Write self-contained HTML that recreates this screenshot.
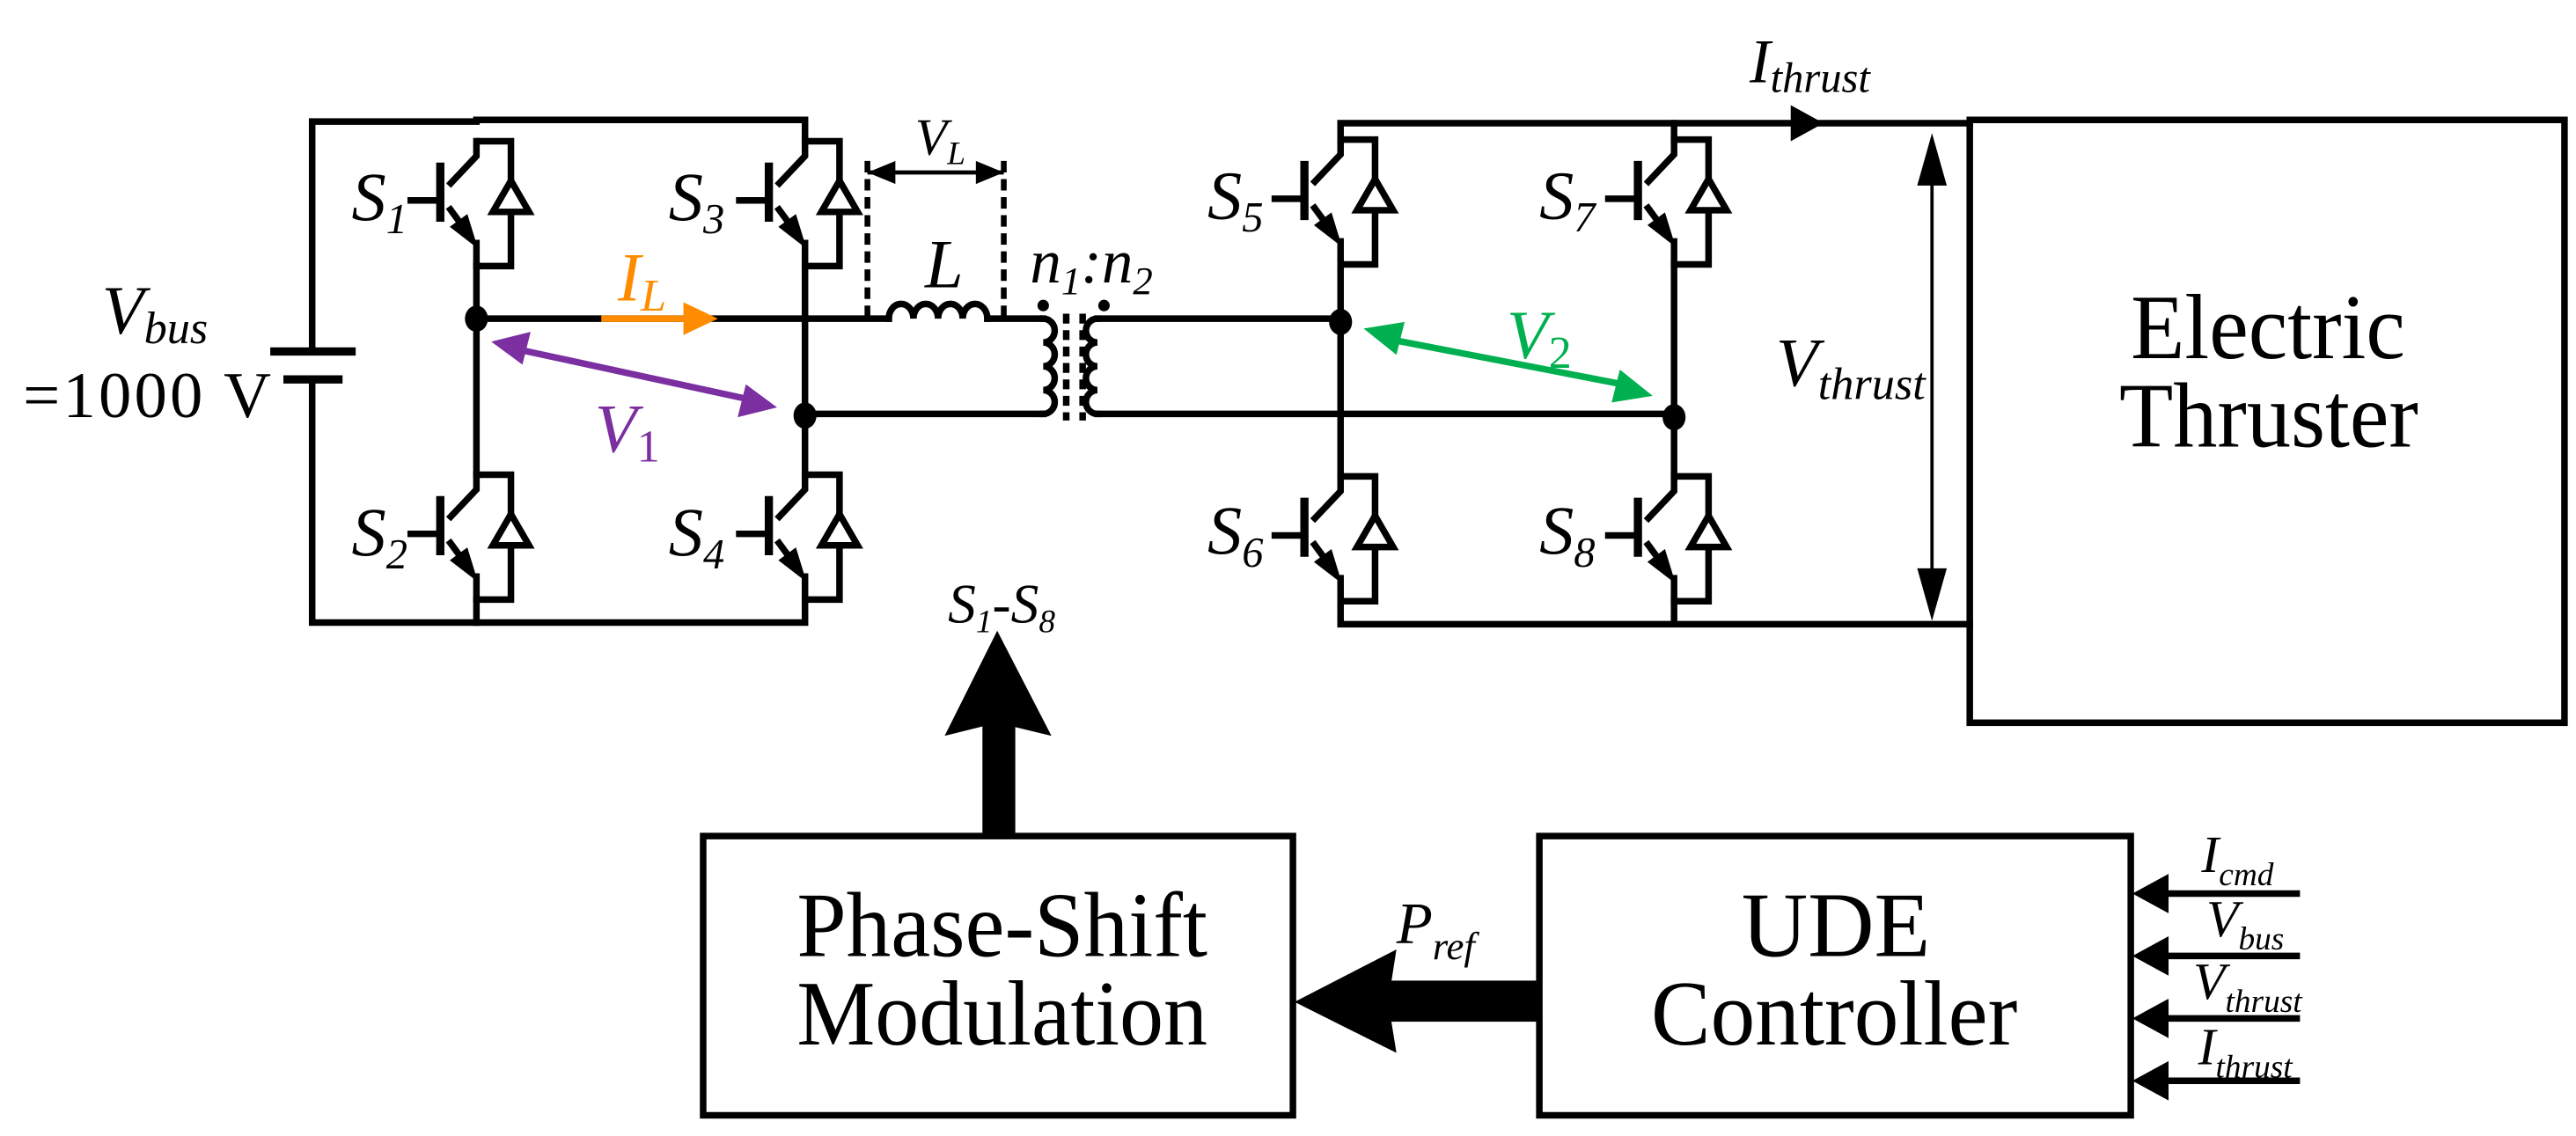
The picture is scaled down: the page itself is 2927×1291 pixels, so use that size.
<!DOCTYPE html>
<html><head><meta charset="utf-8"><style>html,body{margin:0;padding:0;background:#fff}svg{display:block}text{font-family:"Liberation Serif","Times New Roman",serif}</style></head><body>
<svg xmlns="http://www.w3.org/2000/svg" width="2927" height="1291" viewBox="0 0 1568 691.6">
<defs>
<g id="sw" fill="none" stroke="#000" stroke-width="4">
  <path d="M0,0 H21 V76 H0"/>
  <path d="M0,-2 V9 L-17,27"/>
  <path d="M-22,13 V49" stroke-width="5"/>
  <path d="M-42,36 H-22"/>
  <path d="M-17,40 L-6,55"/>
  <polygon points="0,64 -15.4,52.1 -5.8,45.1" fill="#000" stroke-width="1"/>
  <path d="M0,60 V78"/>
  <polygon points="21,24 10,43 32,43" fill="#fff"/>
</g>
</defs>
<g fill="none" stroke="#000" stroke-width="4" stroke-linecap="square">
  <path d="M190,214 V74 H290 V73 H490 V86"/>
  <path d="M190,231 V379 H490 V365"/>
  <path d="M290,162 V289 M290,365 V379"/>
  <path d="M490,162 V289"/>
  <path d="M167,214 H214" stroke-width="5"/>
  <path d="M175,231 H206" stroke-width="5"/>
  <path d="M290,194 H541"/>
  <path d="M601,194 H635"/>
  <path d="M490,252 H635"/>
  <path d="M668,194 H816"/>
  <path d="M668,252 H1019"/>
  <path d="M541,194 a7.5,9 0 0 1 15,0 a7.5,9 0 0 1 15,0 a7.5,9 0 0 1 15,0 a7.5,9 0 0 1 15,0"/>
  <path d="M635,194 a7,7.25 0 0 1 0,14.5 a7,7.25 0 0 1 0,14.5 a7,7.25 0 0 1 0,14.5 a7,7.25 0 0 1 0,14.5"/>
  <path d="M668,194 a7,7.25 0 0 0 0,14.5 a7,7.25 0 0 0 0,14.5 a7,7.25 0 0 0 0,14.5 a7,7.25 0 0 0 0,14.5"/>
  <path d="M649,191 V256 M659,191 V256" stroke-dasharray="6,4" stroke-linecap="butt"/>
  <path d="M816,85 V75 H1199"/>
  <path d="M1019,75 V85"/>
  <path d="M816,161 V290 M1019,161 V290"/>
  <path d="M816,366 V380 H1199 M1019,366 V380"/>
  <rect x="1199" y="73" width="362" height="367"/>
  <path d="M528,98 V194 M611,98 V194" stroke-dasharray="7,4" stroke-width="3.5" stroke-linecap="butt"/>
  <rect x="428" y="509" width="359" height="170"/>
  <rect x="937" y="509" width="360" height="170"/>
  <path d="M1310,544 H1400 M1310,582 H1400 M1310,620 H1400 M1310,658 H1400" stroke-width="4" stroke-linecap="butt"/>
</g>
<use href="#sw" x="290" y="86"/>
<use href="#sw" x="290" y="289"/>
<use href="#sw" x="490" y="86"/>
<use href="#sw" x="490" y="289"/>
<use href="#sw" x="816" y="85"/>
<use href="#sw" x="816" y="290"/>
<use href="#sw" x="1019" y="85"/>
<use href="#sw" x="1019" y="290"/>
<g fill="#000">
  <ellipse cx="290" cy="194" rx="7" ry="8"/>
  <ellipse cx="490" cy="253" rx="7" ry="8"/>
  <ellipse cx="816" cy="196" rx="7" ry="8"/>
  <ellipse cx="1019" cy="254" rx="7" ry="8"/>
  <circle cx="635" cy="186" r="3.5"/>
  <circle cx="672" cy="186" r="3.5"/>
  <path d="M528,105 H611" stroke="#000" stroke-width="2.5"/>
  <polygon points="528,105 545,98 545,112"/>
  <polygon points="611,105 594,98 594,112"/>
  <polygon points="1110,75 1090,64 1090,86"/>
  <path d="M1176,100 V360" stroke="#000" stroke-width="2"/>
  <polygon points="1176,81 1167,113 1185,113"/>
  <polygon points="1176,378 1167,346 1185,346"/>
  <rect x="598" y="440" width="20" height="69"/>
  <polygon points="607,384 575,448 607,440 640,448"/>
  <rect x="845" y="597" width="92" height="25"/>
  <polygon points="788,610 850,578 845,610 850,641"/>
  <polygon points="1298,544 1320,532 1320,556"/>
  <polygon points="1298,582 1320,570 1320,594"/>
  <polygon points="1298,620 1320,608 1320,632"/>
  <polygon points="1298,658 1320,646 1320,670"/>
</g>
<g>
  <path d="M366,194 H418" stroke="#FF8C00" stroke-width="4"/>
  <polygon points="437,194 416,184 416,204" fill="#FF8C00"/>
  <path d="M312,212 L460,244" stroke="#7B2FA0" stroke-width="4"/>
  <polygon points="299,208 323,202 318,222" fill="#7B2FA0"/>
  <polygon points="473,248 449,254 454,234" fill="#7B2FA0"/>
  <path d="M843,206 L993,235" stroke="#00B050" stroke-width="4"/>
  <polygon points="830,200 855,196 850,216" fill="#00B050"/>
  <polygon points="1006,241 981,245 986,225" fill="#00B050"/>
</g>
<g fill="#000">
  <g font-style="italic" font-size="42">
    <text x="214" y="134">S<tspan font-size="26" dy="8">1</tspan></text>
    <text x="214" y="338">S<tspan font-size="26" dy="8">2</tspan></text>
    <text x="407" y="134">S<tspan font-size="26" dy="8">3</tspan></text>
    <text x="407" y="338">S<tspan font-size="26" dy="8">4</tspan></text>
    <text x="735" y="133">S<tspan font-size="26" dy="8">5</tspan></text>
    <text x="735" y="337">S<tspan font-size="26" dy="8">6</tspan></text>
    <text x="937" y="133">S<tspan font-size="26" dy="8">7</tspan></text>
    <text x="937" y="337">S<tspan font-size="26" dy="8">8</tspan></text>
    <text x="62" y="203">V<tspan font-size="28" dy="6">bus</tspan></text>
    <text x="563" y="175">L</text>
    <text x="627" y="172" font-size="38">n<tspan font-size="24" dy="7">1</tspan><tspan dy="-7">:n</tspan><tspan font-size="24" dy="7">2</tspan></text>
    <text x="557" y="94" font-size="32">V<tspan font-size="20" dy="6">L</tspan></text>
    <text x="376" y="183" fill="#FF8C00">I<tspan font-size="28" dy="6">L</tspan></text>
    <text x="362" y="275" fill="#7B2FA0">V<tspan font-size="28" dy="6" font-style="normal">1</tspan></text>
    <text x="917" y="218" fill="#00B050">V<tspan font-size="28" dy="6" font-style="normal">2</tspan></text>
    <text x="1081" y="235">V<tspan font-size="28" dy="8">thrust</tspan></text>
    <text x="1065" y="50" font-size="38">I<tspan font-size="26" dy="6">thrust</tspan></text>
    <text x="577" y="379" font-size="34">S<tspan font-size="20" dy="6">1</tspan><tspan dy="-6">-S</tspan><tspan font-size="20" dy="6">8</tspan></text>
    <text x="850" y="574" font-size="36">P<tspan font-size="24" dy="10">ref</tspan></text>
    <text x="1340" y="531" font-size="32">I<tspan font-size="20" dy="8">cmd</tspan></text>
    <text x="1343" y="570" font-size="32">V<tspan font-size="20" dy="8">bus</tspan></text>
    <text x="1335" y="608" font-size="32">V<tspan font-size="20" dy="8">thrust</tspan></text>
    <text x="1338" y="648" font-size="32">I<tspan font-size="20" dy="8">thrust</tspan></text>
  </g>
  <text x="14" y="254" font-size="40" textLength="151">=1000 V</text>
  <g font-size="56">
    <text x="1297" y="218" textLength="167" lengthAdjust="spacingAndGlyphs">Electric</text>
    <text x="1290" y="272" textLength="182" lengthAdjust="spacingAndGlyphs">Thruster</text>
    <text x="485" y="582" textLength="250" lengthAdjust="spacingAndGlyphs">Phase-Shift</text>
    <text x="485" y="636" textLength="250" lengthAdjust="spacingAndGlyphs">Modulation</text>
    <text x="1060" y="582" textLength="115" lengthAdjust="spacingAndGlyphs">UDE</text>
    <text x="1005" y="636" textLength="223" lengthAdjust="spacingAndGlyphs">Controller</text>
  </g>
</g>
</svg>
</body></html>
